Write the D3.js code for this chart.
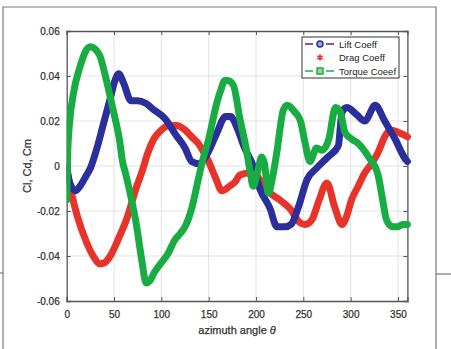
<!DOCTYPE html>
<html>
<head>
<meta charset="utf-8">
<script src="https://cdn.jsdelivr.net/npm/d3@7"></script>
<style>
  body { margin: 0; background: #fff; }
  svg { display: block; font-family: "Liberation Sans", Arial, sans-serif; }
</style>
</head>
<body>
<svg id="chart" width="451" height="349"></svg>
<script>
// azimuth angle (deg) and coefficient values
const liftTheta = [0, 3, 9, 14, 21, 25, 32, 39, 46, 51, 55, 60, 68, 75, 83, 92, 104, 115, 125, 132, 140, 148, 158, 168, 173, 180, 187, 197, 204, 215, 222, 231, 237, 245, 254, 264, 276, 287, 291, 296, 306, 315, 326, 336, 347, 358, 360];
const liftCoeff = [0, -0.007, -0.011, -0.009, -0.004, -0.001, 0.008, 0.019, 0.030, 0.038, 0.041, 0.037, 0.029, 0.029, 0.028, 0.025, 0.021, 0.014, 0.008, 0.002, 0.001, 0.005, 0.014, 0.022, 0.022, 0.017, 0.009, 0, -0.010, -0.019, -0.027, -0.027, -0.026, -0.018, -0.006, -0.001, 0.004, 0.009, 0.024, 0.026, 0.023, 0.020, 0.027, 0.020, 0.012, 0.003, 0.002];

const dragTheta = [0, 5, 11, 21, 28, 35, 40, 46, 55, 63, 74, 80, 85, 92, 100, 108, 116, 125, 132, 139, 145, 150, 157, 164, 172, 178, 183, 194, 200, 207, 215, 225, 236, 246, 252, 259, 266, 275, 283, 291, 296, 301, 308, 315, 322, 329, 336, 342, 350, 360];
const dragCoeff = [-0.002, -0.012, -0.022, -0.034, -0.040, -0.0435, -0.043, -0.040, -0.032, -0.024, -0.009, -0.002, 0.005, 0.012, 0.016, 0.018, 0.018, 0.016, 0.013, 0.010, 0.006, 0.002, -0.005, -0.011, -0.009, -0.007, -0.004, -0.003, -0.004, -0.008, -0.012, -0.015, -0.019, -0.025, -0.026, -0.024, -0.016, -0.0075, -0.018, -0.026, -0.022, -0.015, -0.009, -0.003, 0.001, 0.006, 0.013, 0.016, 0.015, 0.013];

const torqueTheta = [0, 1, 3, 7, 14, 20, 25, 30, 35, 42, 49, 56, 59, 62, 67, 74, 79, 84, 88, 93, 100, 107, 114, 120, 125, 132, 139, 144, 150, 158, 163, 167, 170, 176, 183, 190, 194, 197, 202, 206, 209, 213, 218, 222, 229, 233, 241, 247, 252, 257, 264, 270, 277, 284, 289, 294, 301, 308, 319, 329, 333, 338, 344, 350, 355, 360];
const torqueCoeff = [-0.015, 0.005, 0.019, 0.032, 0.044, 0.051, 0.053, 0.052, 0.049, 0.038, 0.025, 0.011, 0.002, -0.003, -0.012, -0.027, -0.041, -0.052, -0.051, -0.047, -0.043, -0.039, -0.033, -0.030, -0.027, -0.019, -0.006, 0.003, 0.012, 0.027, 0.034, 0.038, 0.038, 0.036, 0.021, 0.007, -0.003, -0.009, -0.002, 0.004, 0.001, -0.012, -0.004, 0.006, 0.025, 0.027, 0.024, 0.020, 0.010, 0.002, 0.008, 0.007, 0.012, 0.026, 0.024, 0.015, 0.012, 0.010, 0.004, -0.004, -0.013, -0.024, -0.027, -0.027, -0.026, -0.026];

const xTicks = [0, 50, 100, 150, 200, 250, 300, 350];
const yTicks = [-0.06, -0.04, -0.02, 0, 0.02, 0.04, 0.06];
const legendLabels = ["Lift Coeff", "Drag Coeff", "Torque Coeef"];

const colors = { lift: "#2b2f9c", drag: "#e8332b", torque: "#18ac42" };

const svg = d3.select("#chart");
const margin = { left: 66.7, top: 31, right: 407.4, bottom: 301 };

const x = d3.scaleLinear().domain([0, 360]).range([margin.left, margin.right]);
const y = d3.scaleLinear().domain([-0.06, 0.06]).range([margin.bottom, margin.top]);

// Outer panel frame
const frame = svg.append("g").attr("stroke", "#7a7a7a").attr("stroke-width", 1.2).attr("fill", "none");
frame.append("path").attr("d", "M3,349V7H436V349");
frame.append("path").attr("d", "M0,273H3");
frame.append("path").attr("d", "M436,274H451");

// Grid
const grid = svg.append("g").attr("stroke", "#dcdcdc").attr("stroke-width", 0.8);
grid.selectAll("line.gx").data(xTicks.slice(1)).join("line")
  .attr("x1", (d) => x(d)).attr("x2", (d) => x(d))
  .attr("y1", margin.top).attr("y2", margin.bottom);
grid.selectAll("line.gy").data(yTicks.slice(1, -1)).join("line")
  .attr("x1", margin.left).attr("x2", margin.right)
  .attr("y1", (d) => y(d)).attr("y2", (d) => y(d));

// Axes (MATLAB box, ticks inward on all sides)
const axisColor = "#555";
const fmtY = (d) => (d === 0 ? "0" : d3.format(".2f")(d).replace("−", "-"));

svg.append("g").attr("transform", `translate(0,${margin.bottom})`)
  .call(d3.axisBottom(x).tickValues(xTicks).tickSize(-4).tickPadding(10));
svg.append("g").attr("transform", `translate(${margin.left},0)`)
  .call(d3.axisLeft(y).tickValues(yTicks).tickSize(-4).tickPadding(7).tickFormat(fmtY));
svg.append("g").attr("transform", `translate(0,${margin.top})`)
  .call(d3.axisTop(x).tickValues(xTicks).tickSize(-4).tickFormat(""));
svg.append("g").attr("transform", `translate(${margin.right},0)`)
  .call(d3.axisRight(y).tickValues(yTicks).tickSize(-4).tickFormat(""));

svg.selectAll(".domain").attr("stroke", axisColor).attr("stroke-width", 1.3);
svg.selectAll(".tick line").attr("stroke", axisColor);
svg.selectAll(".tick text")
  .attr("fill", "#333")
  .attr("font-size", 10)
  .attr("stroke", "#333").attr("stroke-width", 0.25)
  .attr("font-family", "Liberation Sans, Arial, sans-serif");

// Series
svg.append("clipPath").attr("id", "plot-clip")
  .append("rect").attr("x", margin.left).attr("y", margin.top - 4)
  .attr("width", margin.right - margin.left + 4).attr("height", margin.bottom - margin.top + 4);

const line = d3.line().x((d) => x(d[0])).y((d) => y(d[1])).curve(d3.curveMonotoneX);
const series = [
  { key: "drag", theta: dragTheta, values: dragCoeff },
  { key: "lift", theta: liftTheta, values: liftCoeff },
  { key: "torque", theta: torqueTheta, values: torqueCoeff },
];
const plot = svg.append("g").attr("clip-path", "url(#plot-clip)");
series.forEach((s) => {
  plot.append("path")
    .datum(d3.zip(s.theta, s.values))
    .attr("d", line)
    .attr("fill", "none")
    .attr("stroke", colors[s.key])
    .attr("stroke-width", 7)
    .attr("stroke-linejoin", "round")
    .attr("stroke-linecap", "round");
});

// Axis labels
svg.append("text")
  .attr("x", (margin.left + margin.right) / 2)
  .attr("y", 334)
  .attr("text-anchor", "middle")
  .attr("font-size", 11)
  .attr("fill", "#333").attr("stroke", "#333").attr("stroke-width", 0.25)
  .text("azimuth angle ")
  .append("tspan").attr("font-style", "italic").text("θ");

svg.append("text")
  .attr("transform", `translate(31,${(margin.top + margin.bottom) / 2}) rotate(-90)`)
  .attr("text-anchor", "middle")
  .attr("font-size", 11)
  .attr("fill", "#333").attr("stroke", "#333").attr("stroke-width", 0.25)
  .text("Cl, Cd, Cm");

// Legend
const legend = svg.append("g").attr("transform", "translate(302,37)");
legend.append("rect")
  .attr("width", 97).attr("height", 41)
  .attr("fill", "#fff").attr("stroke", "#333").attr("stroke-width", 1);

const keys = ["lift", "drag", "torque"];
keys.forEach((k, i) => {
  const g = legend.append("g").attr("transform", `translate(0,${7 + i * 13.5})`);
  const c = colors[k];
  if (k !== "drag") {
    g.append("line").attr("x1", 3).attr("x2", 11).attr("stroke", c).attr("stroke-width", 1.5);
    g.append("line").attr("x1", 24).attr("x2", 32).attr("stroke", c).attr("stroke-width", 1.5);
  }
  if (k === "lift") {
    g.append("circle").attr("cx", 18).attr("r", 3).attr("fill", "#9fa3d6").attr("stroke", c).attr("stroke-width", 1.5);
  } else if (k === "torque") {
    g.append("rect").attr("x", 15).attr("y", -3).attr("width", 6).attr("height", 6)
      .attr("fill", "#8fd8a0").attr("stroke", c).attr("stroke-width", 1.5);
  } else {
    g.append("path").attr("d", d3.symbol(d3.symbolAsterisk, 30)()).attr("transform", "translate(18,0)")
      .attr("stroke", c).attr("stroke-width", 1.6);
  }
  g.append("text").attr("x", 37).attr("y", 3.5)
    .attr("font-size", 9.5).attr("fill", "#222")
    .text(legendLabels[i]);
});
</script>
</body>
</html>
